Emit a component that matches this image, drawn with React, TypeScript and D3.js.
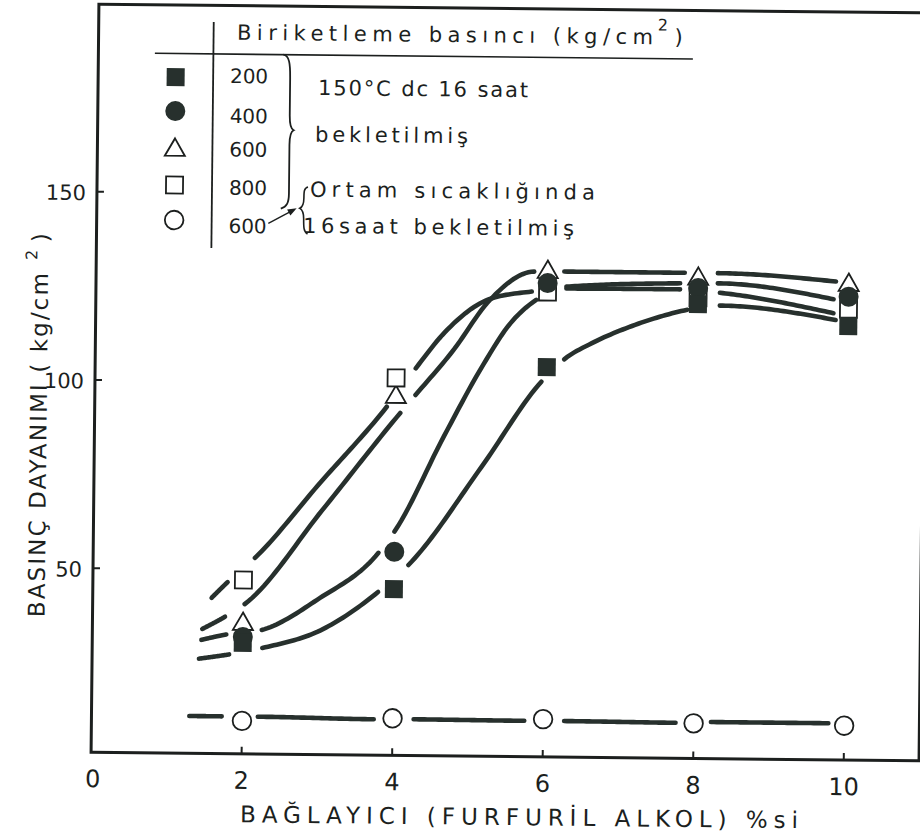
import React from "react";
import * as d3 from "d3";

// ---------- data ----------
const xCategories = [2, 4, 6, 8, 10];
const xTickValues = [0, 2, 4, 6, 8, 10];
const yTickValues = [50, 100, 150];

// marker values, Basınç dayanımı (kg/cm²)
const p200 = [30.6, 45.3, 104.7, 121.8, 116.4]; // filled square
const p400 = [32.2, 55.2, 127.0, 126.1, 124.2]; // filled circle
const p600 = [35.6, 96.3, 129.9, 128.5, 127.3]; // open triangle
const p800 = [47.3, 101.4, 124.6, 123.5, 120.9]; // open square
const p600room = [9.9, 11.0, 11.2, 10.5, 10.3]; // open circle

// hand-drawn fitted curves, knots [x, y]
const curve200: [number, number][] = [[1.42, 26.3], [2.26, 29.3], [3.04, 34.25], [3.79, 44.5], [4.19, 51.75], [5.15, 78.1], [5.93, 100.8], [6.23, 106.8], [6.6, 111.2], [7.07, 115.4], [7.5, 118.4], [7.86, 120.3], [8.29, 121.5], [9.83, 118.0]];
const curve400: [number, number][] = [[1.45, 31.3], [1.78, 32.8], [2.25, 34.1], [3.0, 42.5], [3.79, 54.9], [4.0, 60.6], [4.64, 85.9], [5.14, 104.6], [5.51, 116.2], [5.85, 122.5], [6.25, 126.1], [7.76, 127.3], [8.26, 127.4], [9.8, 123.5]];
const curve600: [number, number][] = [[1.46, 34.2], [1.76, 37.5], [2.02, 40.9], [3.05, 66.4], [4.06, 92.1], [4.26, 96.9], [4.76, 109.0], [5.22, 122.0], [5.82, 130.0], [6.22, 130.1], [7.82, 130.1], [8.26, 130.1], [9.83, 128.2]];
const curve800: [number, number][] = [[1.58, 42.5], [1.79, 46.7], [2.15, 53.2], [3.0, 73.2], [3.88, 93.7], [4.26, 104.0], [4.63, 113.4], [5.22, 122.5], [5.79, 124.7], [6.25, 125.6], [7.76, 125.7], [8.29, 124.9], [9.8, 119.8]];
const curve600room: [number, number][] = [[1.3, 11.05], [2.21, 11.05], [3.75, 10.7], [4.28, 10.8], [5.75, 10.7], [6.28, 10.75], [7.76, 10.6], [8.23, 10.9], [9.79, 10.9]];

// visible stroke pieces of each curve [fromX, toX]
const pieces200: [number, number][] = [[1.42, 1.82], [2.26, 3.79], [4.19, 5.93], [6.23, 7.86], [8.29, 9.83]];
const pieces400: [number, number][] = [[1.45, 1.78], [2.25, 3.79], [4.0, 5.85], [6.25, 7.76], [8.26, 9.8]];
const pieces600: [number, number][] = [[1.46, 1.76], [2.02, 4.06], [4.26, 5.82], [6.22, 7.82], [8.26, 9.83]];
const pieces800: [number, number][] = [[1.58, 1.79], [2.15, 3.88], [4.26, 5.79], [6.25, 7.76], [8.29, 9.8]];
const pieces600room: [number, number][] = [[1.3, 1.73], [2.21, 3.75], [4.28, 5.75], [6.28, 7.76], [8.23, 9.79]];

const legendPressures = ["200", "400", "600", "800", "600"];
const legendTitle = "Biriketleme basıncı (kg/cm";
const groupTextA = ["150°C dc 16 saat", "bekletilmiş"];
const groupTextB = ["Ortam sıcaklığında", "16saat bekletilmiş"];
const xTitle = "BAĞLAYICI (FURFURİL ALKOL) %si";
const yTitle = "BASINÇ DAYANIMI ( kg/cm";

// ---------- layout ----------
const W = 920;
const H = 836;
const INK = "#1c1f1e";
const MARK = "#27302d";
const FONT = "'DejaVu Sans', 'Liberation Sans', sans-serif";

const x = d3.scaleLinear().domain([0, 11]).range([95, 923]);
const y = d3.scaleLinear().domain([0, 200]).range([760.9, 7.7]);
const FRAME_TOP = 8.5;
const FRAME_BOTTOM = 756.5;

// monotone cubic (same tangents as d3.curveMonotoneX), evaluated along x
function monotoneFn(pts: [number, number][]) {
  const n = pts.length;
  const xs = pts.map((p) => p[0]);
  const ys = pts.map((p) => p[1]);
  const sl: number[] = [];
  for (let i = 0; i < n - 1; i++) sl.push((ys[i + 1] - ys[i]) / (xs[i + 1] - xs[i]));
  const m: number[] = new Array(n).fill(0);
  for (let i = 1; i < n - 1; i++) {
    const h0 = xs[i] - xs[i - 1];
    const h1 = xs[i + 1] - xs[i];
    const s0 = sl[i - 1];
    const s1 = sl[i];
    const p = (s0 * h1 + s1 * h0) / (h0 + h1);
    m[i] = (Math.sign(s0) + Math.sign(s1)) * Math.min(Math.abs(s0), Math.abs(s1), 0.5 * Math.abs(p)) || 0;
  }
  m[0] = n > 2 ? (3 * sl[0] - m[1]) / 2 : sl[0];
  m[n - 1] = n > 2 ? (3 * sl[n - 2] - m[n - 2]) / 2 : sl[n - 2];
  return (xv: number) => {
    let i = 0;
    while (i < n - 2 && xv > xs[i + 1]) i++;
    const h = xs[i + 1] - xs[i];
    const t = (xv - xs[i]) / h;
    const t2 = t * t;
    const t3 = t2 * t;
    return (
      (2 * t3 - 3 * t2 + 1) * ys[i] +
      (t3 - 2 * t2 + t) * h * m[i] +
      (-2 * t3 + 3 * t2) * ys[i + 1] +
      (t3 - t2) * h * m[i + 1]
    );
  };
}

const lineGen = d3
  .line<[number, number]>()
  .x((d) => x(d[0]))
  .y((d) => y(d[1]));

const seriesCurves = [
  { id: "c200", curve: curve200, pieces: pieces200 },
  { id: "c400", curve: curve400, pieces: pieces400 },
  { id: "c600", curve: curve600, pieces: pieces600 },
  { id: "c800", curve: curve800, pieces: pieces800 },
  { id: "c600r", curve: curve600room, pieces: pieces600room },
];

function piecePaths(curve: [number, number][], pieces: [number, number][]) {
  const f = monotoneFn(curve);
  return pieces.map(([a, b]) => {
    const pts: [number, number][] = d3.range(0, 41).map((k) => {
      const xv = a + ((b - a) * k) / 40;
      return [xv, f(xv)];
    });
    return lineGen(pts) as string;
  });
}

const triPath = d3.symbol().type(d3.symbolTriangle).size(175)() as string;

function FilledSquare({ cx, cy }: { cx: number; cy: number }) {
  return <rect x={cx - 9} y={cy - 9} width={18} height={18} fill={MARK} />;
}
function FilledCircle({ cx, cy }: { cx: number; cy: number }) {
  return <circle cx={cx} cy={cy} r={10} fill={MARK} />;
}
function OpenTriangle({ cx, cy }: { cx: number; cy: number }) {
  return <path d={triPath} transform={`translate(${cx},${cy})`} fill="#fff" stroke={INK} strokeWidth={1.8} />;
}
function OpenSquare({ cx, cy }: { cx: number; cy: number }) {
  return <rect x={cx - 8.5} y={cy - 8.5} width={17} height={17} fill="#fff" stroke={INK} strokeWidth={1.8} />;
}
function OpenCircle({ cx, cy }: { cx: number; cy: number }) {
  return <circle cx={cx} cy={cy} r={9.3} fill="#fff" stroke={INK} strokeWidth={1.8} />;
}

export default function App() {
  // arrow in legend
  const aS = [266.7, 225.8];
  const aE = [294.9, 210.5];
  const dx = aE[0] - aS[0];
  const dy = aE[1] - aS[1];
  const len = Math.hypot(dx, dy);
  const ux = dx / len;
  const uy = dy / len;
  const head = `M${aE[0]},${aE[1]} L${aE[0] - 9 * ux + 3.5 * -uy},${aE[1] - 9 * uy + 3.5 * ux} L${aE[0] - 9 * ux - 3.5 * -uy},${aE[1] - 9 * uy - 3.5 * ux} Z`;

  const legendMarkerX = 172.5;
  const legendMarkerY = [80.5, 114.5, 153.5, 188.5, 223.5];
  const legendNumY = [86, 126, 159.4, 197.7, 236];

  return (
    <div style={{ position: "absolute", left: 0, top: 0 }}>
      <svg width={W} height={H} style={{ display: "block", background: "#fff" }} fontFamily={FONT}>
        <rect x={0} y={0} width={W} height={H} fill="#fff" />
        <g transform="rotate(0.6 505 380)">
          {/* frame */}
          <path
            d={`M${x(0)},${FRAME_TOP} L${x(11)},${FRAME_TOP} L${x(11)},${FRAME_BOTTOM} L${x(0)},${FRAME_BOTTOM} Z`}
            fill="none"
            stroke={INK}
            strokeWidth={3}
          />
          {/* x ticks */}
          {xCategories.map((v) => (
            <line key={v} x1={x(v)} x2={x(v)} y1={FRAME_BOTTOM} y2={FRAME_BOTTOM - 7} stroke={INK} strokeWidth={2} />
          ))}
          {xTickValues.map((v) => (
            <text key={v} x={x(v) + (v === 0 ? 2 : 0)} y={791.5} fontSize={24} textAnchor="middle" fill={INK}>
              {v}
            </text>
          ))}
          {/* y ticks */}
          {yTickValues.map((v) => (
            <line key={v} x1={x(0)} x2={x(0) + 7} y1={y(v)} y2={y(v)} stroke={INK} strokeWidth={2} />
          ))}
          {yTickValues.map((v) => (
            <text key={v} x={84} y={y(v) + 8.5} fontSize={21} textAnchor="end" fill={INK}>
              {v}
            </text>
          ))}
          {/* axis titles */}
          <text x={244.6} y={825} fontSize={23} fill={INK} textLength={558} lengthAdjust="spacing">
            {xTitle}
          </text>
          <g transform="translate(47,622) rotate(-90)">
            <text x={0} y={0} fontSize={23} fill={INK} textLength={344} lengthAdjust="spacing">
              {yTitle}
            </text>
          </g>
          <g transform="translate(36,265) rotate(-90)">
            <text x={0} y={0} fontSize={16} fill={INK}>2</text>
          </g>
          <g transform="translate(47,247) rotate(-90)">
            <text x={0} y={0} fontSize={23} fill={INK}>)</text>
          </g>

          {/* curves, drawn as the separate hand-drawn pieces */}
          {seriesCurves.map((s) =>
            piecePaths(s.curve, s.pieces).map((d, i) => (
              <path
                key={`${s.id}-${i}`}
                d={d}
                fill="none"
                stroke={MARK}
                strokeWidth={4.6}
                strokeLinecap="round"
              />
            ))
          )}

          {/* markers */}
          {p600room.map((v, i) => (
            <OpenCircle key={`oc${i}`} cx={x(xCategories[i])} cy={y(v)} />
          ))}
          {p600.map((v, i) => (
            <OpenTriangle key={`ot${i}`} cx={x(xCategories[i])} cy={y(v)} />
          ))}
          {p800.map((v, i) => (
            <OpenSquare key={`os${i}`} cx={x(xCategories[i])} cy={y(v)} />
          ))}
          {p400.map((v, i) => (
            <FilledCircle key={`fc${i}`} cx={x(xCategories[i])} cy={y(v)} />
          ))}
          {p200.map((v, i) => (
            <FilledSquare key={`fs${i}`} cx={x(xCategories[i])} cy={y(v)} />
          ))}

          {/* legend */}
          <text x={233.4} y={42.6} fontSize={21} fill={INK} textLength={416} lengthAdjust="spacing">
            {legendTitle}
          </text>
          <text x={654} y={29} fontSize={16} fill={INK}>2</text>
          <text x={671} y={42.6} fontSize={21} fill={INK}>)</text>
          <line x1={151.5} x2={689.5} y1={57} y2={57} stroke={INK} strokeWidth={1.6} />
          <line x1={210} x2={210} y1={25} y2={251} stroke={INK} strokeWidth={1.8} />

          <FilledSquare cx={legendMarkerX} cy={legendMarkerY[0]} />
          <FilledCircle cx={legendMarkerX} cy={legendMarkerY[1]} />
          <OpenTriangle cx={legendMarkerX} cy={legendMarkerY[2]} />
          <OpenSquare cx={legendMarkerX} cy={legendMarkerY[3]} />
          <OpenCircle cx={legendMarkerX} cy={legendMarkerY[4]} />

          {legendPressures.map((p, i) => (
            <text key={i} x={227} y={legendNumY[i]} fontSize={20} fill={INK} textLength={38} lengthAdjust="spacing">
              {p}
            </text>
          ))}

          {/* right brace */}
          <path
            d="M280,57 C286,58 287,66 287,80 L287,118 C287,127 288,131 291,132.5 C288,134 287,138 287,147 L287,196 C287,205 285,209 279,211"
            fill="none"
            stroke={INK}
            strokeWidth={1.8}
          />
          {/* left brace */}
          <path
            d="M306,189 C302,190 302,194 302,200 C302,206 301,209 298,210.5 C301,212 302,215 302,221 C302,229 302,234 306,236"
            fill="none"
            stroke={INK}
            strokeWidth={1.6}
          />
          {/* arrow */}
          <line x1={aS[0]} y1={aS[1]} x2={aE[0] - 6 * ux} y2={aE[1] - 6 * uy} stroke={INK} strokeWidth={1.4} />
          <path d={head} fill={INK} />

          <text x={315} y={97} fontSize={21} fill={INK} textLength={210} lengthAdjust="spacing">
            {groupTextA[0]}
          </text>
          <text x={312.5} y={143.7} fontSize={21} fill={INK} textLength={153} lengthAdjust="spacing">
            {groupTextA[1]}
          </text>
          <text x={308} y={198.7} fontSize={21} fill={INK} textLength={285} lengthAdjust="spacing">
            {groupTextB[0]}
          </text>
          <text x={301.5} y={235} fontSize={21} fill={INK} textLength={271} lengthAdjust="spacing">
            {groupTextB[1]}
          </text>
        </g>
      </svg>
    </div>
  );
}
